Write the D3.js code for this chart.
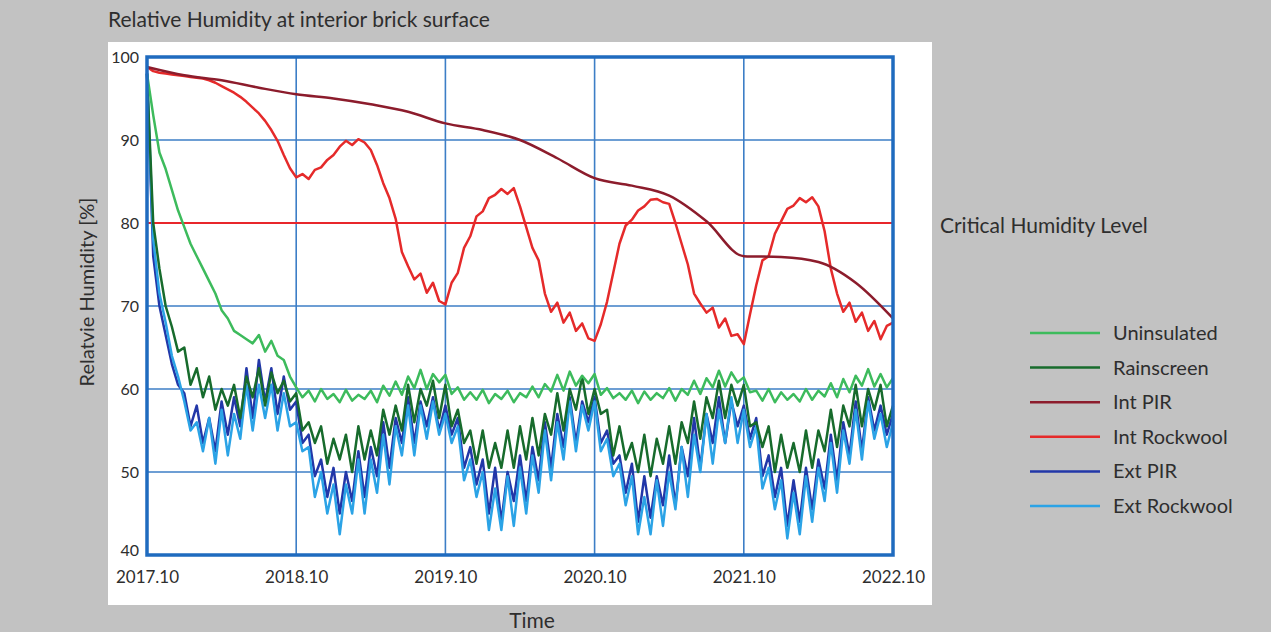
<!DOCTYPE html>
<html>
<head>
<meta charset="utf-8">
<script src="https://cdn.jsdelivr.net/npm/d3@7"></script>
<style>
  body { margin: 0; background: #c2c2c2; }
  svg text { font-family: Lato, "Open Sans", sans-serif; fill: #2e2e2e; }
</style>
</head>
<body>
<div id="chart"></div>
<script>
// sampling: one value every half month, starting 2017.10
const STEP = 0.5
const xTickLabels = ["2017.10", "2018.10", "2019.10", "2020.10", "2021.10", "2022.10"]
const yTicks = [40, 50, 60, 70, 80, 90, 100]
const criticalLevel = 80

const uninsulated = [
  98.0, 93.0, 88.5, 86.5, 84.0, 81.5, 79.5, 77.5, 76.0, 74.5, 73.0, 71.5, 69.5, 68.5, 67.0, 66.5, 66.0, 65.5, 66.5, 64.5, 65.8, 64.0, 63.5, 61.5,
  60.2, 59.0, 59.8, 58.5, 60.0, 58.8, 59.4, 58.4, 59.9, 58.6, 59.3, 58.8, 59.8, 58.4, 60.4, 59.2, 60.9, 59.3, 61.5, 60.1, 62.3, 60.0, 61.8, 60.8,
  61.7, 59.4, 60.2, 58.7, 59.6, 58.7, 59.9, 58.3, 59.4, 58.8, 59.8, 58.4, 59.5, 59.0, 60.3, 59.0, 60.6, 59.7, 61.7, 59.8, 62.1, 60.4, 61.6, 60.7,
  61.8, 59.3, 60.1, 58.9, 59.5, 58.7, 59.8, 58.3, 59.7, 58.7, 59.5, 58.9, 60.1, 58.6, 60.0, 59.3, 61.0, 59.4, 61.3, 60.2, 62.2, 60.3, 62.0, 60.8,
  61.4, 59.6, 59.8, 58.6, 60.0, 58.4, 59.6, 58.7, 59.4, 58.5, 60.0, 58.7, 59.8, 59.1, 60.7, 59.0, 61.2, 59.6, 61.6, 60.4, 62.4, 60.3, 61.8, 60.2, 61.3
]
const rainscreen = [
  98.0, 80.0, 74.5, 70.0, 67.5, 64.5, 65.0, 60.5, 62.5, 59.0, 61.5, 57.5, 60.0, 58.0, 60.5, 56.5, 61.5, 59.0, 62.5, 58.0, 62.0, 59.5, 61.0, 58.5,
  59.5, 55.0, 56.0, 53.5, 55.5, 51.0, 54.0, 51.5, 54.5, 50.0, 55.5, 51.5, 55.0, 52.0, 57.5, 54.5, 58.0, 55.0, 60.5, 56.0, 60.0, 58.0, 61.0, 56.5,
  60.5, 55.5, 57.5, 53.5, 55.0, 51.0, 55.0, 50.5, 53.5, 50.5, 55.0, 50.5, 55.5, 51.5, 56.5, 52.0, 57.0, 54.5, 59.5, 55.0, 60.0, 57.5, 61.5, 57.0,
  60.0, 57.0, 57.5, 52.0, 55.5, 51.5, 53.5, 50.0, 54.5, 49.5, 54.0, 51.0, 55.5, 51.0, 56.0, 53.5, 58.5, 54.0, 59.0, 56.5, 61.0, 56.5, 60.5, 58.0,
  60.5, 55.5, 56.0, 53.0, 55.5, 50.0, 54.5, 50.5, 53.5, 50.0, 55.0, 50.5, 55.0, 52.5, 57.5, 53.0, 58.0, 55.5, 60.5, 55.5, 60.0, 57.5, 60.5, 55.5, 58.0
]
const intRockwool = [
  98.8, 98.3, 98.1, 98.0, 97.9, 97.8, 97.7, 97.6, 97.5, 97.4, 97.2, 96.9, 96.5, 96.1, 95.7, 95.2, 94.6, 93.9, 93.2, 92.3, 91.2, 89.9, 88.2, 86.6,
  85.5, 85.9, 85.3, 86.4, 86.7, 87.6, 88.2, 89.2, 89.9, 89.4, 90.1, 89.7, 88.8, 87.0, 84.8, 83.0, 80.5, 76.5, 74.8, 73.2, 73.9, 71.6, 72.8, 70.6,
  70.2, 72.8, 74.0, 77.0, 78.4, 80.8, 81.4, 83.0, 83.4, 84.1, 83.5, 84.2, 82.0, 79.5, 77.0, 75.5, 71.5, 69.3, 70.4, 68.0, 69.2, 67.0, 67.9, 66.1,
  65.8, 67.8, 70.5, 74.0, 77.5, 79.7, 80.4, 81.5, 82.0, 82.8, 82.9, 82.5, 82.3, 80.0, 77.5, 75.0, 71.5, 70.3, 69.2, 69.8, 67.4, 68.5, 66.4, 66.6,
  65.4, 69.0, 72.5, 75.5, 76.0, 78.7, 80.2, 81.7, 82.1, 83.0, 82.5, 83.1, 82.0, 79.0, 74.5, 71.5, 69.3, 70.4, 68.1, 69.2, 67.0, 68.2, 66.0, 67.6, 68.0
]
const extPir = [
  98.0, 76.0, 70.0, 66.5, 63.0, 60.5, 59.5, 55.5, 58.0, 53.5, 56.5, 52.5, 58.5, 54.5, 59.0, 55.5, 62.5, 56.5, 63.5, 58.5, 62.5, 57.0, 61.5, 57.5,
  58.5, 53.5, 54.5, 49.5, 51.5, 47.0, 50.5, 45.0, 50.0, 46.5, 52.5, 47.0, 53.0, 49.5, 56.0, 50.5, 56.5, 53.5, 59.0, 53.5, 58.5, 55.5, 59.0, 55.0,
  58.0, 54.5, 56.5, 50.5, 53.0, 48.5, 51.5, 45.0, 50.5, 44.0, 50.0, 46.5, 52.0, 46.5, 53.0, 49.0, 56.0, 50.5, 57.0, 53.0, 59.0, 53.5, 58.5, 56.0,
  59.0, 53.5, 55.0, 51.0, 52.0, 47.5, 51.0, 44.0, 49.5, 44.5, 49.5, 46.0, 52.0, 46.0, 53.0, 49.5, 56.5, 50.5, 57.0, 53.5, 59.0, 53.5, 58.5, 55.5,
  58.0, 54.0, 56.5, 49.5, 52.0, 47.0, 50.5, 43.5, 49.0, 44.0, 50.5, 45.5, 51.5, 48.0, 54.5, 49.0, 56.0, 52.0, 58.5, 52.5, 59.0, 55.0, 58.0, 54.5, 57.0
]
const extRockwool = [
  98.0, 78.0, 71.5, 68.0, 64.0, 61.5, 58.5, 55.0, 56.0, 52.5, 56.5, 51.0, 57.5, 52.0, 57.0, 54.0, 60.5, 55.0, 60.5, 56.5, 60.5, 55.0, 59.5, 55.5,
  56.0, 52.5, 53.0, 47.0, 50.0, 45.0, 48.5, 42.5, 48.5, 45.0, 51.5, 45.0, 51.5, 47.5, 54.5, 48.5, 55.5, 52.0, 58.0, 52.0, 58.0, 54.0, 58.5, 54.5,
  57.0, 53.5, 55.5, 49.0, 51.5, 47.0, 50.0, 43.0, 48.0, 43.0, 49.5, 43.5, 50.5, 45.0, 52.0, 47.5, 55.0, 49.0, 56.0, 51.5, 58.5, 52.5, 58.0, 55.0,
  58.5, 52.5, 54.0, 49.5, 51.0, 46.0, 49.5, 42.5, 47.0, 42.5, 49.0, 43.5, 50.0, 45.5, 53.0, 47.0, 54.5, 50.0, 57.0, 51.0, 57.5, 53.5, 59.0, 53.5,
  57.5, 53.0, 55.5, 48.0, 50.5, 45.5, 49.0, 42.0, 47.5, 42.5, 49.5, 44.0, 50.5, 46.5, 53.5, 47.5, 55.0, 51.0, 57.5, 51.5, 58.5, 54.0, 57.0, 53.0, 56.0
]
// Int PIR is smooth, read every 3 months
const intPirMonths = [0, 3, 6, 9, 12, 15, 18, 21, 24, 27, 30, 33, 36, 39, 42, 45, 48, 51, 54, 57, 60]
const intPir = [98.8, 97.8, 97.2, 96.3, 95.5, 95.0, 94.3, 93.4, 92.0, 91.2, 90.0, 87.8, 85.4, 84.5, 83.3, 80.2, 76.0, 75.9, 75.3, 72.8, 68.5]

const series = [
  {name: "Uninsulated", color: "#3dbb5c", values: uninsulated},
  {name: "Rainscreen", color: "#176b2c", values: rainscreen},
  {name: "Int PIR", color: "#8c1c2c", values: intPir, months: intPirMonths},
  {name: "Int Rockwool", color: "#e52a2a", values: intRockwool},
  {name: "Ext PIR", color: "#2237a8", values: extPir},
  {name: "Ext Rockwool", color: "#2ba3e6", values: extRockwool}
]
const drawOrder = ["Ext PIR", "Ext Rockwool", "Rainscreen", "Uninsulated", "Int Rockwool", "Int PIR"]

const W = 1271, H = 632
const PLOT = {LEFT: 147, RIGHT: 893, TOP: 57, BOTTOM: 555}

const svg = d3.select("#chart").append("svg")
  .attr("width", W).attr("height", H)

svg.append("rect").attr("width", W).attr("height", H).attr("fill", "#c2c2c2")
svg.append("rect").attr("x", 108).attr("y", 42).attr("width", 824).attr("height", 563).attr("fill", "#ffffff")

const x = d3.scaleLinear().domain([0, 60]).range([PLOT.LEFT, PLOT.RIGHT])
const y = d3.scaleLinear().domain([40, 100]).range([PLOT.BOTTOM, PLOT.TOP])

// grid
const grid = svg.append("g")
grid.selectAll(".hg").data(yTicks.slice(1, -1)).enter().append("line")
  .attr("x1", PLOT.LEFT).attr("x2", PLOT.RIGHT)
  .attr("y1", d => y(d)).attr("y2", d => y(d))
  .attr("stroke", "#3d7ec6").attr("stroke-width", 1.6)
grid.selectAll(".vg").data(xTickLabels.slice(1, -1)).enter().append("line")
  .attr("x1", (d, i) => x((i + 1) * 12)).attr("x2", (d, i) => x((i + 1) * 12))
  .attr("y1", PLOT.TOP).attr("y2", PLOT.BOTTOM)
  .attr("stroke", "#3d7ec6").attr("stroke-width", 1.6)

// axes (labels only, the frame is drawn separately)
const yAxis = svg.append("g").attr("transform", `translate(${PLOT.LEFT},0)`)
  .call(d3.axisLeft(y).tickValues(yTicks).tickSize(0).tickPadding(8))
yAxis.select(".domain").remove()
yAxis.selectAll("text").style("font-size", "16px").style("font-family", "Lato, sans-serif").attr("fill", "#3a3a3a")
  .attr("dy", (d) => d === 40 ? "0.05em" : "0.32em")

const xAxis = svg.append("g").attr("transform", `translate(0,${PLOT.BOTTOM})`)
  .call(d3.axisBottom(x).tickValues([0, 12, 24, 36, 48, 60]).tickFormat((d, i) => xTickLabels[i]).tickSize(0).tickPadding(16))
xAxis.select(".domain").remove()
xAxis.selectAll("text").style("font-size", "17px").style("font-family", "Lato, sans-serif").attr("fill", "#3a3a3a")

// critical humidity line
svg.append("line")
  .attr("x1", PLOT.LEFT).attr("x2", PLOT.RIGHT)
  .attr("y1", y(criticalLevel)).attr("y2", y(criticalLevel))
  .attr("stroke", "#e8262b").attr("stroke-width", 2)

// series
const line = d3.line()
  .x(d => x(d[0])).y(d => y(d[1]))

drawOrder.forEach(n => {
  const s = series.find(d => d.name === n)
  const pts = s.values.map((v, i) => [s.months ? s.months[i] : i * STEP, v])
  svg.append("path")
    .datum(pts)
    .attr("fill", "none")
    .attr("stroke", s.color)
    .attr("stroke-width", 2.5)
    .attr("stroke-linejoin", "round")
    .attr("d", s.months ? line.curve(d3.curveMonotoneX)(pts) : line.curve(d3.curveLinear)(pts))
})

// frame
svg.append("rect")
  .attr("x", PLOT.LEFT).attr("y", PLOT.TOP)
  .attr("width", PLOT.RIGHT - PLOT.LEFT).attr("height", PLOT.BOTTOM - PLOT.TOP)
  .attr("fill", "none").attr("stroke", "#1f6bbf").attr("stroke-width", 3.5)

// texts
svg.append("text").attr("x", 108).attr("y", 27).style("font-size", "21px")
  .text("Relative Humidity at interior brick surface")
svg.append("text").attr("transform", `translate(94,292) rotate(-90)`)
  .attr("text-anchor", "middle").style("font-size", "20px")
  .text("Relatvie Humidity [%]")
svg.append("text").attr("x", 532).attr("y", 628).attr("text-anchor", "middle").style("font-size", "21px")
  .text("Time")
svg.append("text").attr("x", 940).attr("y", 233).style("font-size", "21px")
  .text("Critical Humidity Level")

// legend
const legend = svg.append("g").attr("transform", "translate(1030,333)")
const items = legend.selectAll("g").data(series).enter().append("g")
  .attr("transform", (d, i) => `translate(0,${i * 34.6})`)
items.append("line").attr("x1", 0).attr("x2", 70)
  .attr("stroke", d => d.color).attr("stroke-width", 2.5)
items.append("text").attr("x", 83).attr("y", 7).style("font-size", "20px")
  .text(d => d.name)
</script>
</body>
</html>
